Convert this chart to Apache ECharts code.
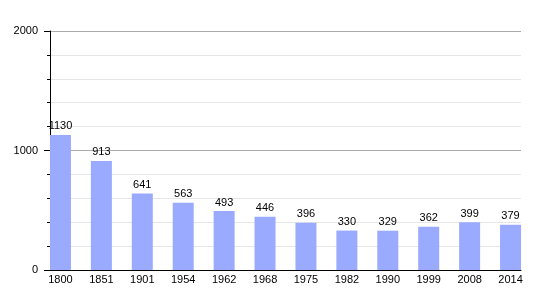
<!DOCTYPE html>
<html><head><meta charset="utf-8">
<script src="https://cdn.jsdelivr.net/npm/echarts@6/dist/echarts.min.js"></script>
<style>html,body{margin:0;padding:0;background:#fff}#c{width:550px;height:300px}</style>
</head><body><div id="c"></div>
<script>
const years = ['1800','1851','1901','1954','1962','1968','1975','1982','1990','1999','2008','2014'];
const population = [1130, 913, 641, 563, 493, 446, 396, 330, 329, 362, 399, 379];
const yTicks = [0, 1000, 2000];

const font = 'Liberation Sans, Arial, sans-serif';
const chart = echarts.init(document.getElementById('c'));
chart.setOption({
  animation: false,
  grid: [
    {left: 50, width: 471, top: 31, bottom: 30},
    {left: 40, width: 491, top: 31, bottom: 30}
  ],
  xAxis: [
    {gridIndex: 0, type: 'category', data: years, boundaryGap: true,
     axisLine: {show: true, lineStyle: {color: '#000', width: 1}},
     axisTick: {show: false}, axisLabel: {show: false}, splitLine: {show: false}},
    {gridIndex: 1, type: 'category', data: years, boundaryGap: true,
     axisLine: {show: false}, axisTick: {show: false},
     axisLabel: {show: true, color: '#000', fontSize: 11, fontFamily: font, margin: 4}}
  ],
  yAxis: [
    {gridIndex: 0, type: 'value', min: yTicks[0], max: yTicks[yTicks.length-1], interval: 1000,
     axisLine: {show: true, lineStyle: {color: '#000', width: 1}},
     axisTick: {show: true, length: 6, lineStyle: {color: '#000'}},
     minorTick: {show: true, splitNumber: 5, length: 3, lineStyle: {color: '#000'}},
     splitLine: {show: true, lineStyle: {color: '#aaaaaa', width: 1}},
     minorSplitLine: {show: true, lineStyle: {color: '#e6e6e6', width: 1}},
     axisLabel: {color: '#000', fontSize: 11, fontFamily: font, margin: 12,
                 formatter: v => String(v)}},
    {gridIndex: 1, type: 'value', min: yTicks[0], max: yTicks[yTicks.length-1],
     show: false, splitLine: {show: false}}
  ],
  series: [{
    type: 'bar', xAxisIndex: 1, yAxisIndex: 1, data: population, barWidth: 21,
    itemStyle: {color: '#99aaff'},
    label: {show: true, position: 'top', distance: 3, color: '#000', fontSize: 11, fontFamily: font}
  }]
});
</script></body></html>
